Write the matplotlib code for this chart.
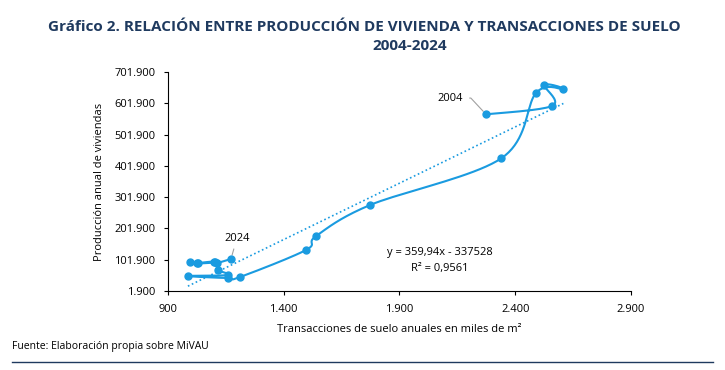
import numpy as np
import matplotlib.pyplot as plt
from matplotlib.ticker import FuncFormatter

# === Data ===
years = list(range(2004, 2025))
transacciones = [2274, 2561, 2526, 2608, 2490, 2340, 1773, 1540, 1496,
                 1211, 1159, 986, 1159, 1116, 1103, 1030, 995, 1025, 1099, 1112, 1172]
produccion = [566400, 594000, 660000, 647000, 635000, 426000, 276700, 177600, 132900,
              46600, 43400, 49800, 53000, 69000, 94500, 91400, 94500, 89800, 93000, 91400, 104100]
slope, intercept = 359.94, -337528
eq_text = "y = 359,94x - 337528"
r2_text = "R² = 0,9561"

x_ticks = [900, 1400, 1900, 2400, 2900]
y_ticks = [1900, 101900, 201900, 301900, 401900, 501900, 601900, 701900]

blue = "#1a9be0"
navy = "#1f3a5f"
plt.rcParams['font.family'] = ['Open Sans', 'DejaVu Sans']


def smooth(xs, ys, n=20):
    # Catmull-Rom curve through the points (like Excel's smoothed line)
    p = np.column_stack([xs, ys]).astype(float)
    p = np.vstack([p[0], p, p[-1]])
    out = []
    t = np.linspace(0, 1, n, endpoint=False)[:, None]
    for i in range(1, len(p) - 2):
        p0, p1, p2, p3 = p[i - 1], p[i], p[i + 1], p[i + 2]
        c = 0.5 * ((2 * p1) + (-p0 + p2) * t + (2 * p0 - 5 * p1 + 4 * p2 - p3) * t ** 2
                   + (-p0 + 3 * p1 - 3 * p2 + p3) * t ** 3)
        out.append(c)
    out.append(p[-2][None, :])
    c = np.vstack(out)
    return c[:, 0], c[:, 1]


fig = plt.figure(figsize=(7.25, 3.7), dpi=100)
ax = fig.add_axes([0.2317, 0.2135, 0.6386, 0.592])

sx, sy = smooth(transacciones, produccion)
ax.plot(sx, sy, color=blue, lw=1.5, zorder=3)
ax.plot(transacciones, produccion, 'o', color=blue, ms=5, zorder=4)

tx = np.array([min(transacciones), max(transacciones)])
ax.plot(tx, slope * tx + intercept, color=blue, lw=1.2, ls=(0, (1, 1.6)), zorder=2)

ax.set_xlim(900, 2900)
ax.set_ylim(1900, 701900)
ax.set_xticks(x_ticks)
ax.set_yticks(y_ticks)
fmt = FuncFormatter(lambda v, p: f"{int(v):,}".replace(",", "."))
ax.xaxis.set_major_formatter(fmt)
ax.yaxis.set_major_formatter(fmt)
ax.tick_params(labelsize=8, length=3, direction='out', color='black', pad=6)
for s in ['top', 'right']:
    ax.spines[s].set_visible(False)
for s in ['left', 'bottom']:
    ax.spines[s].set_color('black')
    ax.spines[s].set_linewidth(0.8)

ax.set_xlabel("Transacciones de suelo anuales en miles de m²", fontsize=8, labelpad=7)
ax.set_ylabel("Producción anual de viviendas", fontsize=8, labelpad=7)

ax.text(2075, 126500, eq_text, fontsize=8, ha='center', va='center')
ax.text(2075, 75400, r2_text, fontsize=8, ha='center', va='center')

# point labels with leader lines
ax.annotate("2004", xy=(transacciones[0], produccion[0]), xytext=(2118, 618500),
            fontsize=8, ha='center', va='center',
            arrowprops=dict(arrowstyle='-', color='#a0a0a0', lw=0.8,
                            connectionstyle="angle,angleA=0,angleB=-47,rad=0",
                            shrinkA=3, shrinkB=3))
ax.annotate("2024", xy=(transacciones[-1], produccion[-1]), xytext=(1198, 171200),
            fontsize=8, ha='center', va='center',
            arrowprops=dict(arrowstyle='-', color='#a0a0a0', lw=0.8,
                            shrinkA=2, shrinkB=3))

fig.text(364 / 725, 1 - 27 / 370, "Gráfico 2. RELACIÓN ENTRE PRODUCCIÓN DE VIVIENDA Y TRANSACCIONES DE SUELO",
         fontsize=11, fontweight='bold', color=navy, ha='center', va='center')
fig.text(410 / 725, 1 - 46 / 370, "2004-2024",
         fontsize=11, fontweight='bold', color=navy, ha='center', va='center')
fig.text(12 / 725, 1 - 347 / 370, "Fuente: Elaboración propia sobre MiVAU",
         fontsize=7.5, ha='left', va='center')
fig.add_artist(plt.Line2D([12 / 725, 713 / 725], [1 - 362 / 370] * 2, color=navy, lw=1))

plt.savefig("out.png", dpi=100)
